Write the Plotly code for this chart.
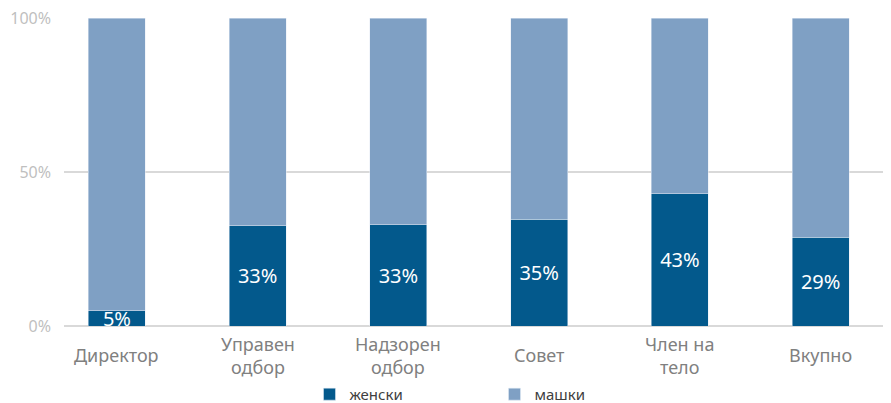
import plotly.graph_objects as go

categories = ["Директор", "Управен<br>одбор", "Надзорен<br>одбор", "Совет", "Член на<br>тело", "Вкупно"]
female = [4.9, 32.5, 32.8, 34.7, 42.9, 28.9]
female_labels = ["5%", "33%", "33%", "35%", "43%", "29%"]
male = [100 - v for v in female]
series_names = ["женски", "машки"]
y_ticks = [0, 50, 100]
y_tick_labels = ["0%", "50%", "100%"]

font_family = "Noto Sans"
dark = "#03598c"
light = "#7fa0c4"

fig = go.Figure()
fig.add_trace(go.Bar(
    x=categories, y=female, name=series_names[0], marker_color=dark,
    text=female_labels, textposition="inside", insidetextanchor="middle",
    constraintext="none", cliponaxis=False,
    textfont=dict(color="white", size=20, family=font_family),
    width=0.405, hoverinfo="skip",
))
fig.add_trace(go.Bar(
    x=categories, y=male, name=series_names[1], marker_color=light,
    width=0.405, hoverinfo="skip",
))

for c in categories:
    fig.add_annotation(
        x=c, xref="x", y=0, yref="paper", yshift=-29,
        yanchor="middle", xanchor="center", showarrow=False,
        text=c, font=dict(size=18, color="#808080", family=font_family),
    )

fig.update_layout(
    barmode="stack",
    width=891, height=403,
    margin=dict(l=56, r=8, t=10, b=85, autoexpand=False),
    plot_bgcolor="white", paper_bgcolor="white",
    font=dict(family=font_family),
    showlegend=True,
    legend=dict(
        orientation="h", x=0.5 + 17 / 827, xanchor="center", xref="paper",
        y=-0.222, yanchor="middle", yref="paper", traceorder="normal",
        font=dict(size=15, color="#404040", family=font_family),
        entrywidth=140, entrywidthmode="pixels",
        itemwidth=30,
    ),
)
fig.update_xaxes(
    range=[-0.376, 5.5], showgrid=False, showline=False, ticks="",
    showticklabels=False, automargin=False,
)
fig.update_yaxes(
    range=[0, 100.01], tickvals=y_ticks, ticktext=y_tick_labels,
    showgrid=True, gridcolor="#d9d9d9", gridwidth=1.5,
    zeroline=True, zerolinecolor="#d9d9d9", zerolinewidth=1.5,
    tickfont=dict(size=16, color="#bfbfbf", family=font_family),
    ticks="", ticklabelstandoff=12, automargin=False,
    ticklabeloverflow="allow",
)

fig.write_html("out.html")
